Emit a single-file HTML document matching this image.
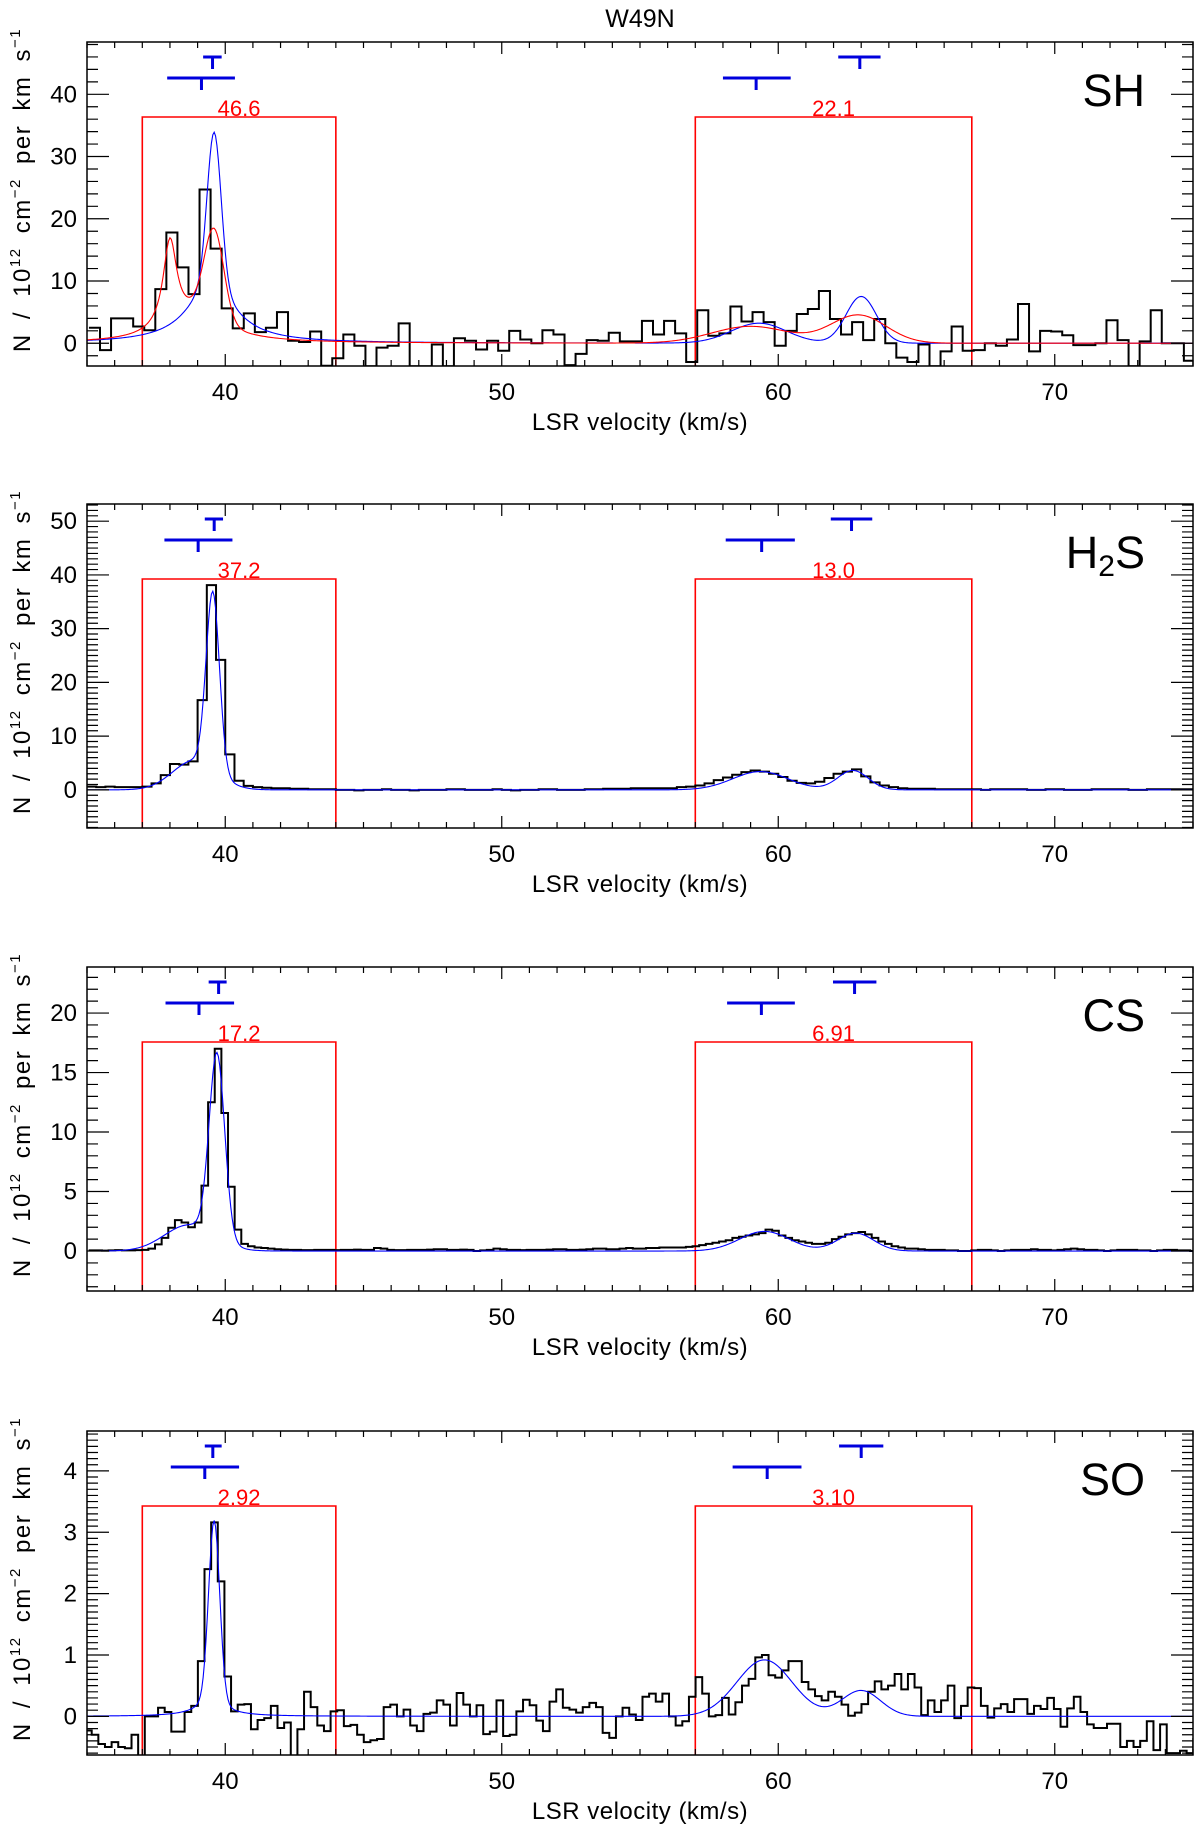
<!DOCTYPE html>
<html><head><meta charset="utf-8"><title>W49N</title>
<style>
html,body{margin:0;padding:0;background:#fff;}
svg{display:block;font-family:"Liberation Sans",sans-serif;}
</style></head>
<body>
<svg id="chart" width="1200" height="1832" viewBox="0 0 1200 1832" xmlns="http://www.w3.org/2000/svg">
<text x="640" y="27" font-size="25" text-anchor="middle" fill="#000">W49N</text>
</svg>
<script>
// ---------- data ----------
const xTickValues = [40, 50, 60, 70];
const panelNames = ["SH", "H2S", "CS", "SO"];
const boxRanges = [[37, 44], [57, 67]];

// SH
const shStart = 35.07, shWidth = 0.4;
const shValues = [2.5,-1.1,4.0,4.0,2.7,2.1,8.7,17.8,12.2,7.9,24.7,15.2,5.6,2.4,4.8,1.8,2.5,5.0,0.4,0.2,1.9,-3.6,-2.4,1.4,-0.4,-3.7,-0.7,-0.4,3.2,-3.7,-3.7,-0.2,-3.7,0.8,0.4,-1.0,0.4,-1.2,2.0,0.6,0,2.1,1.4,-3.5,-1.7,0.5,
0.4,1.7,0.3,0.3,3.6,1.4,3.6,1.6,-3,5.3,1.2,1.6,5.9,3.5,5,3.4,-0.4,2,4.7,5.5,8.4,3.9,1.4,3.4,0.5,3.9,0,-2.3,-3,-0.2,-3.7,-1.3,2.7,-1.2,-1.1,0,-0.4,0.6,6.3,-1.3,2,1.9,1.3,-0.3,-0.3,0,3.7,0.5,-3.7,0.3,5.3,0,0,-2.8];
const shYTicks = [0, 10, 20, 30, 40];
const shBlueCenters = [39.6, 39.5, 59.3, 63.0];
const shBlueAmps = [24, 10, 3.2, 7.5];
const shBlueWidths = [0.25, 1.0, 1.0, 0.55];
const shBlueTypes = ["g", "l", "g", "g"];
const shRedCenters = [38.0, 39.6, 39.0, 59.0, 62.9];
const shRedAmps = [14, 14, 5, 2.7, 4.5];
const shRedWidths = [0.3, 0.35, 1.2, 1.4, 1.0];
const shRedTypes = ["l", "g", "l", "g", "g"];
const shColumns = ["46.6", "22.1"];

// H2S
const h2sStart = 35.0, h2sWidth = 1/3;
const h2sValues = [0.6,0.5,0.6,0.5,0.5,0.5,0.6,1.2,2.75,4.8,
4.7,5.3,16.7,38.1,24.2,6.6,1.7,0.75,0.5,0.4,
0.3,0.3,0.2,0.2,0.1,0.1,0.1,0.0,0.0,-0.1,
0,0,0.1,0,0,-0.1,0,0,0,0.1,
0.1,0,0,0,0.1,0,-0.1,0,0,0.1,
0.1,0,0,0,0.1,0.1,0.2,0.2,0.2,0.3,
0.3,0.3,0.3,0.3,0.5,0.6,0.8,1.2,1.8,2.3,
2.8,3.3,3.6,3.4,3.0,2.4,1.7,1.3,1.2,1.5,
2.2,3.0,3.4,3.8,2.5,1.4,0.8,0.5,0.3,0.2,
0.2,0.2,0.1,0.1,0.1,0.1,0.1,0.0,0.1,0.1,
0.1,0.1,0.0,0.0,0.1,0.1,0.0,0.0,0.0,0.1,
0.1,0.1,0.1,0.0,0.0,0.1,0.1,0.1,0.1,0.1];
const h2sYTicks = [0, 10, 20, 30, 40, 50];
const h2sBlueCenters = [39.55, 38.9, 59.35, 62.7];
const h2sBlueAmps = [33, 5.5, 3.4, 3.6];
const h2sBlueWidths = [0.24, 0.8, 1.0, 0.55];
const h2sBlueTypes = ["g", "g", "g", "g"];
const h2sColumns = ["37.2", "13.0"];

// CS
const csStart = 35.06, csWidth = 0.24;
const csValues = [0.05,0.05,0.03,0.05,0.08,0.05,0.05,0.08,0.1,
0.2,0.56,1.1,1.96,2.6,2.4,2.0,2.4,5.5,12.5,17,11.6,5.4,1.8,0.6,0.4,0.3,0.25,0.2,
0.15,0.12,0.1,0.1,0.08,0.08,0.1,0.1,0.1,0.08,0.1,0.1,0.12,0.1,0.1,0.25,0.2,0.1,0.08,0.08,
0.1,0.1,0.1,0.12,0.15,0.15,0.1,0.1,0.12,0.1,0.0,0.05,0.1,0.2,0.15,0.1,0.1,0.08,0.1,0.1,
0.1,0.12,0.15,0.15,0.1,0.1,0.12,0.15,0.2,0.2,0.15,0.15,0.2,0.25,0.2,0.2,0.25,0.25,0.3,0.3,
0.3,0.3,0.35,0.4,0.5,0.6,0.7,0.8,0.9,1.1,1.2,1.3,1.4,1.5,1.8,1.7,1.3,1.1,0.9,0.8,0.7,0.6,0.6,0.7,1.0,1.2,1.4,1.5,1.6,1.4,1.1,0.8,0.6,0.4,0.3,0.2,0.2,0.15,0.1,0.1,0.1,0.05,0.05,0.0,0.0,0.05,0.1,0.1,0.05,0.0,0.05,0.1,0.1,
0.1,0.15,0.1,0.1,0.05,0.1,0.15,0.2,0.15,0.1,0.1,0.05,0.0,0.05,0.1,0.1,0.1,0.05,0.05,0.0,0.05,0.1,0.1,0.05,0.05,0.0];
const csYTicks = [0, 5, 10, 15, 20];
const csBlueCenters = [39.7, 38.7, 59.5, 62.8];
const csBlueAmps = [15.5, 2.2, 1.65, 1.5];
const csBlueWidths = [0.28, 0.9, 0.9, 0.65];
const csBlueTypes = ["g", "g", "g", "g"];
const csColumns = ["17.2", "6.91"];

// SO
const soStart = 34.93, soWidth = 0.24;
const soValues = [-0.23,-0.3,-0.45,-0.5,-0.42,-0.5,-0.52,-0.3,-0.7,0.0,
0,0.14,0.07,-0.25,-0.25,0.07,0.17,0.9,2.4,3.16,
2.2,0.65,0.08,0.19,0.2,-0.21,-0.06,-0.03,0.17,-0.19,
-0.1,-0.65,-0.21,0.4,0.15,-0.15,-0.24,0.08,0.1,-0.16,
-0.14,-0.3,-0.42,-0.39,-0.37,0.15,0.19,0,0.11,-0.15,
-0.24,0.04,0.06,0.26,0.19,-0.15,0.38,0.19,0,0.18,
-0.29,-0.25,0.26,-0.32,-0.3,0.08,0.27,0.18,-0.07,-0.24,
0.24,0.44,0.14,0.11,0.06,0.15,0.22,0.15,-0.27,-0.35,
0,0.14,0.03,-0.06,0.32,0.37,0.24,0.37,0,-0.15,
-0.08,0.32,0.64,0.37,0,0.02,0.3,0.03,0.23,0.5,
0.61,0.96,1.0,0.67,0.63,0.75,0.9,0.9,0.56,0.44,
0.33,0.26,0.4,0.32,0.19,0.01,0.06,0.2,0.4,0.57,
0.44,0.5,0.69,0.44,0.69,0.47,0.02,0.26,0.07,0.26,
0.5,-0.03,0.17,0.47,0.46,0.17,-0.02,0.13,0.2,0.07,
0.28,0.28,0.04,0.17,0.12,0.3,0.12,-0.17,0.13,0.32,
0.07,-0.13,-0.19,-0.19,-0.12,-0.12,-0.5,-0.4,-0.5,-0.4,
-0.08,-0.55,-0.13,-0.6,-0.6,-0.56,-0.6,-0.37];
const soYTicks = [0, 1, 2, 3, 4];
const soBlueCenters = [39.6, 39.5, 59.5, 63.0];
const soBlueAmps = [2.9, 0.3, 0.92, 0.42];
const soBlueWidths = [0.2, 0.6, 1.0, 0.7];
const soBlueTypes = ["g", "l", "g", "g"];
const soColumns = ["2.92", "3.10"];

// velocity markers [lowBarStart, lowBarEnd, lowTick, highBarStart, highBarEnd, highTick] per side
const shMarkers = [[37.9, 40.35, 39.14, 39.2, 39.87, 39.54], [58.0, 60.45, 59.2, 62.17, 63.7, 62.95]];
const h2sMarkers = [[37.8, 40.26, 39.02, 39.26, 39.92, 39.6], [58.1, 60.6, 59.4, 61.9, 63.4, 62.65]];
const csMarkers = [[37.84, 40.32, 39.05, 39.4, 40.05, 39.76], [58.15, 60.6, 59.39, 61.98, 63.55, 62.76]];
const soMarkers = [[38.03, 40.5, 39.26, 39.26, 39.87, 39.55], [58.35, 60.84, 59.6, 62.2, 63.8, 63.0]];

// ---------- layout ----------
const NS = "http://www.w3.org/2000/svg";
const svg = document.getElementById("chart");
const X0 = 87, X1 = 1193, xMin = 35, xMax = 75;
function xScale(v){ return X0 + (v - xMin) / (xMax - xMin) * (X1 - X0); }
function mk(tag, attrs, parent){
  const e = document.createElementNS(NS, tag);
  for (const k in attrs) e.setAttribute(k, attrs[k]);
  (parent || svg).appendChild(e);
  return e;
}
function profile(v, c, a, w, t){
  let s = 0;
  for (let i = 0; i < c.length; i++){
    const d = v - c[i];
    s += t[i] === "l" ? a[i] / (1 + (d / w[i]) * (d / w[i])) : a[i] * Math.exp(-d * d / (2 * w[i] * w[i]));
  }
  return s;
}

const panels = [
  {key:"sh", top:42, bottom:366, yMin:-3.65, yMax:48.4, minor:2, ticks:shYTicks, start:shStart, width:shWidth, values:shValues,
   fits:[{c:shBlueCenters,a:shBlueAmps,w:shBlueWidths,t:shBlueTypes,col:"#0000ff",n:"blue-fit"},{c:shRedCenters,a:shRedAmps,w:shRedWidths,t:shRedTypes,col:"#ff0000",n:"red-fit"}],
   cols:shColumns, markers:shMarkers},
  {key:"h2s", top:504, bottom:828, yMin:-7.1, yMax:53.2, minor:1, ticks:h2sYTicks, start:h2sStart, width:h2sWidth, values:h2sValues,
   fits:[{c:h2sBlueCenters,a:h2sBlueAmps,w:h2sBlueWidths,t:h2sBlueTypes,col:"#0000ff",n:"blue-fit"}],
   cols:h2sColumns, markers:h2sMarkers},
  {key:"cs", top:967, bottom:1291, yMin:-3.36, yMax:23.87, minor:1, ticks:csYTicks, start:csStart, width:csWidth, values:csValues,
   fits:[{c:csBlueCenters,a:csBlueAmps,w:csBlueWidths,t:csBlueTypes,col:"#0000ff",n:"blue-fit"}],
   cols:csColumns, markers:csMarkers},
  {key:"so", top:1431, bottom:1755, yMin:-0.63, yMax:4.65, minor:0.1, ticks:soYTicks, start:soStart, width:soWidth, values:soValues,
   fits:[{c:soBlueCenters,a:soBlueAmps,w:soBlueWidths,t:soBlueTypes,col:"#0000ff",n:"blue-fit"}],
   cols:soColumns, markers:soMarkers}
];

panels.forEach(function(p, pi){
  const g = mk("g", {});
  
  
  const yScale = function(v){ return p.bottom - (v - p.yMin) / (p.yMax - p.yMin) * (p.bottom - p.top); };
  const clipId = "clip" + pi;
  const cp = mk("clipPath", {id: clipId}, g);
  mk("rect", {x: X0, y: p.top, width: X1 - X0, height: p.bottom - p.top}, cp);

  // red integration boxes
  boxRanges.forEach(function(r, ri){
    const bt = p.top + 75;
    const box = mk("path", {d: "M" + xScale(r[0]) + "," + p.bottom + " V" + bt + " H" + xScale(r[1]) + " V" + p.bottom, fill: "none", stroke: "#ff0000", "stroke-width": 1.6}, g);
    
    
    const lab = mk("text", {x: (xScale(r[0]) + xScale(r[1])) / 2, y: bt - 1, "font-size": 22, fill: "#ff0000", "text-anchor": "middle"}, g);
    lab.textContent = p.cols[ri];
    
    
  });

  // histogram
  let d = "";
  p.values.forEach(function(v, i){
    const xa = xScale(p.start + i * p.width), xb = xScale(p.start + (i + 1) * p.width), yy = yScale(v);
    d += (i === 0 ? "M" : "L") + xa.toFixed(2) + "," + yy.toFixed(2) + " L" + xb.toFixed(2) + "," + yy.toFixed(2) + " ";
  });
  const hist = mk("path", {d: d, fill: "none", stroke: "#000", "stroke-width": 2, "clip-path": "url(#" + clipId + ")"}, g);
  
  

  // fits
  p.fits.forEach(function(f){
    let fd = "";
    for (let v = xMin; v <= xMax + 1e-9; v += 0.05){
      fd += (fd ? "L" : "M") + xScale(v).toFixed(2) + "," + yScale(profile(v, f.c, f.a, f.w, f.t)).toFixed(2) + " ";
    }
    const fl = mk("path", {d: fd, fill: "none", stroke: f.col, "stroke-width": 1.1, "clip-path": "url(#" + clipId + ")"}, g);
    
    
  });

  // velocity markers
  p.markers.forEach(function(m, mi){
    const lowY = p.top + 36, highY = p.top + 15;
    const md = "M" + xScale(m[0]) + "," + lowY + " H" + xScale(m[1]) + " M" + xScale(m[2]) + "," + lowY + " V" + (lowY + 12) +
               " M" + xScale(m[3]) + "," + highY + " H" + xScale(m[4]) + " M" + xScale(m[5]) + "," + highY + " V" + (highY + 12);
    const mp = mk("path", {d: md, fill: "none", stroke: "#0000dd", "stroke-width": 3}, g);
    
    
  });

  // axes frame
  const frame = mk("rect", {x: X0, y: p.top, width: X1 - X0, height: p.bottom - p.top, fill: "none", stroke: "#000", "stroke-width": 1.5}, g);
  
  

  // x ticks
  let td = "";
  for (let v = xMin; v <= xMax; v += 1){
    const L = (v % 10 === 0) ? 12 : 6, xx = xScale(v);
    td += "M" + xx + "," + p.bottom + " V" + (p.bottom - L) + " M" + xx + "," + p.top + " V" + (p.top + L) + " ";
  }
  // y ticks
  const nMinor = Math.round((p.yMax - p.yMin) / p.minor) + 2;
  const first = Math.ceil(p.yMin / p.minor - 1e-6);
  for (let k = first; k < first + nMinor; k++){
    const v = k * p.minor;
    if (v > p.yMax) break;
    const isMajor = p.ticks.some(function(t){ return Math.abs(t - v) < 1e-6; });
    const L = isMajor ? 22 : 11, yy = yScale(v);
    td += "M" + X0 + "," + yy + " H" + (X0 + L) + " M" + X1 + "," + yy + " H" + (X1 - L) + " ";
  }
  const ticks = mk("path", {d: td, fill: "none", stroke: "#000", "stroke-width": 1.2}, g);
  
  

  xTickValues.forEach(function(v){
    const t = mk("text", {x: xScale(v), y: p.bottom + 34, "font-size": 24, "text-anchor": "middle", fill: "#000"}, g);
    t.textContent = String(v);
    
    
  });
  p.ticks.forEach(function(v){
    const t = mk("text", {x: X0 - 10, y: yScale(v) + 8, "font-size": 24, "text-anchor": "end", fill: "#000"}, g);
    t.textContent = String(v);
    
    
  });

  const xt = mk("text", {x: 640, y: p.bottom + 64, "font-size": 24, "text-anchor": "middle", "letter-spacing": "0.5", fill: "#000"}, g);
  xt.textContent = "LSR velocity (km/s)";
  
  

  const cy = (p.top + p.bottom) / 2 - 14;
  const yt = mk("text", {x: 0, y: 0, "font-size": 24, "text-anchor": "middle", "letter-spacing": "1.5", "word-spacing": "6", fill: "#000", transform: "translate(30," + cy + ") rotate(-90)"}, g);
  
  
  yt.innerHTML = 'N / 10<tspan font-size="15" dy="-10">12</tspan><tspan dy="10"> cm</tspan><tspan font-size="15" dy="-10">−2</tspan><tspan dy="10"> per km s</tspan><tspan font-size="15" dy="-10">−1</tspan>';

  // species label
  const sp = mk("text", {x: 1145, y: p.top + 64, "font-size": 45, "text-anchor": "end", fill: "#000"}, g);
  
  
  if (p.key === "h2s") sp.innerHTML = 'H<tspan font-size="30" dy="8">2</tspan><tspan dy="-8">S</tspan>';
  else sp.textContent = panelNames[pi];
});
</script>
</body></html>
